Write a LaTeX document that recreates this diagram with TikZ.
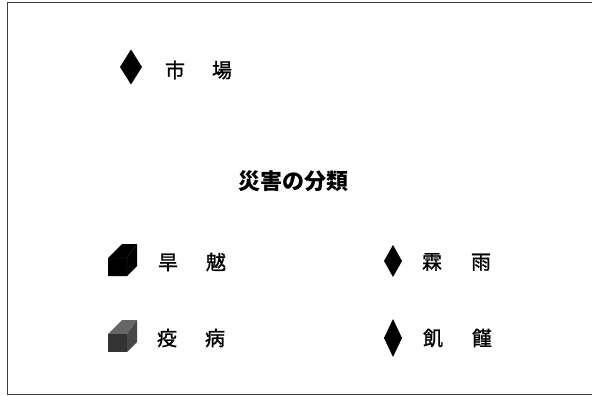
\documentclass[tikz,border=0pt]{standalone}
\usepackage{fontspec}
\newfontfamily\cjk{Noto Sans CJK JP}
\newfontfamily\cjkm[FakeBold=1.2]{Noto Sans CJK JP}
\begin{document}
\begin{tikzpicture}[x=1pt,y=-1pt,
  lbl/.style={font=\cjkm\fontsize{20}{20}\selectfont, inner sep=0pt, anchor=center},
  ttl/.style={font=\cjk\bfseries\fontsize{22}{22}\selectfont, inner sep=0pt},
  frameline/.style={line width=1pt, draw=black!75}]
\useasboundingbox (0,0) rectangle (592,396);
% frame
\draw[frameline] (592,3) -- (7,3) -- (7,394) -- (592,394);
% top item
\fill (131,49.5) -- (142,67) -- (131,84.5) -- (120,67) -- cycle;
\node[lbl] (m) at (198.5,70) {市\hspace{27pt}場};
% title
\node[ttl] (t) at (293,181) {災害の分類};
% black cube
\fill (108,258) -- (122,244) -- (137,244) -- (137,266) -- (127,276) -- (108,276) -- cycle;
\draw[black!80, line width=0.3pt] (108,258) -- (127,258) -- (137,244) (127,258) -- (127,276);
\node[lbl] (a) at (192,262) {旱\hspace{28pt}魃};
% grey cube
\fill[black!60] (108,334) -- (122,320) -- (137,320) -- (127,334) -- cycle;
\fill[black!80] (108,334) -- (127,334) -- (127,352) -- (108,352) -- cycle;
\fill[black!72] (127,334) -- (137,320) -- (137,342) -- (127,352) -- cycle;
\node[lbl] (b) at (191,338) {疫\hspace{28pt}病};
% right diamonds
\fill (393,245) -- (402,261) -- (393,277) -- (384,261) -- cycle;
\node[lbl] (c) at (456.5,262) {霖\hspace{29pt}雨};
\fill (393,319) -- (402,338) -- (393,357) -- (384,338) -- cycle;
\node[lbl] (d) at (457.5,338) {飢\hspace{29pt}饉};
\end{tikzpicture}
\end{document}
